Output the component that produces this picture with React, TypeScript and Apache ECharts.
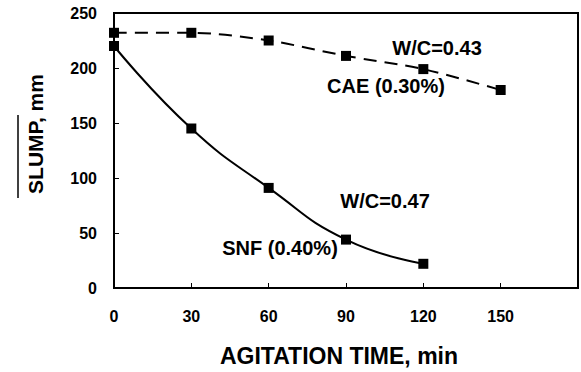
import React, { useEffect, useRef } from "react";
import * as echarts from "echarts";

const times = [0, 30, 60, 90, 120, 150];
const caeSlump = [232, 232, 225, 211, 199, 180];
const snfSlump = [220, 145, 91, 44, 22];
const xTicks = [0, 30, 60, 90, 120, 150];
const yTicks = [0, 50, 100, 150, 200, 250];

const FONT = "'Liberation Sans', Arial, sans-serif";

export default function App() {
  const ref = useRef<HTMLDivElement>(null);
  useEffect(() => {
    if (!ref.current) return;
    const chart = echarts.init(ref.current, undefined, { renderer: "svg" });
    const cae = times.map((t, i) => [t, caeSlump[i]]);
    const snf = snfSlump.map((v, i) => [times[i], v]);
    chart.setOption({
      animation: false,
      backgroundColor: "#fff",
      grid: {
        left: 114,
        right: -17,
        top: 13,
        bottom: 84,
        show: true,
        borderColor: "#000",
        borderWidth: 2,
        backgroundColor: "transparent",
      },
      xAxis: {
        type: "value",
        min: 0,
        max: 180,
        interval: 30,
        axisLine: { show: true, lineStyle: { color: "#000", width: 2 } },
        axisTick: { show: true, inside: true, length: 5, lineStyle: { color: "#000", width: 1 } },
        splitLine: { show: false },
        axisLabel: {
          color: "#000",
          fontFamily: FONT,
          fontWeight: "bold",
          fontSize: 16,
          margin: 20,
          formatter: (v: number) => (xTicks.includes(v) ? String(v) : ""),
        },
      },
      yAxis: {
        type: "value",
        min: 0,
        max: 250,
        interval: 50,
        axisLine: { show: true, lineStyle: { color: "#000", width: 2 } },
        axisTick: { show: true, inside: true, length: 5, lineStyle: { color: "#000", width: 1 } },
        splitLine: { show: false },
        axisLabel: {
          color: "#000",
          fontFamily: FONT,
          fontWeight: "bold",
          fontSize: 16,
          margin: 17,
          formatter: (v: number) => (yTicks.includes(v) ? String(v) : ""),
        },
      },
      series: [
        {
          type: "line",
          name: "CAE",
          data: cae,
          smooth: 0.3,
          symbol: "rect",
          symbolSize: 10,
          itemStyle: { color: "#000" },
          lineStyle: { color: "#000", width: 2, type: [13, 8] },
        },
        {
          type: "line",
          name: "SNF",
          data: snf,
          smooth: 0.5,
          symbol: "rect",
          symbolSize: 10,
          itemStyle: { color: "#000" },
          lineStyle: { color: "#000", width: 2 },
        },
      ],
      graphic: [
        {
          type: "text",
          x: 437,
          y: 48,
          style: { text: "W/C=0.43", font: `bold 20px ${FONT}`, fill: "#000", align: "center", verticalAlign: "middle" },
        },
        {
          type: "text",
          x: 386,
          y: 86,
          style: { text: "CAE (0.30%)", font: `bold 20px ${FONT}`, fill: "#000", align: "center", verticalAlign: "middle" },
        },
        {
          type: "text",
          x: 385,
          y: 201,
          style: { text: "W/C=0.47", font: `bold 20px ${FONT}`, fill: "#000", align: "center", verticalAlign: "middle" },
        },
        {
          type: "text",
          x: 280,
          y: 248,
          style: { text: "SNF (0.40%)", font: `bold 20px ${FONT}`, fill: "#000", align: "center", verticalAlign: "middle" },
        },
        {
          type: "text",
          x: 35,
          y: 134,
          rotation: Math.PI / 2,
          style: { text: "SLUMP, mm", font: `bold 21px ${FONT}`, fill: "#000", align: "center", verticalAlign: "middle" },
        },
        {
          type: "line",
          shape: { x1: 18, y1: 115, x2: 18, y2: 198 },
          style: { stroke: "#000", lineWidth: 1.5 },
        },
        {
          type: "text",
          x: 339,
          y: 356,
          style: { text: "AGITATION TIME, min", font: `bold 23px ${FONT}`, fill: "#000", align: "center", verticalAlign: "middle" },
        },
      ],
    });
    return () => chart.dispose();
  }, []);
  return <div ref={ref} style={{ width: 581, height: 372, position: "absolute", left: 0, top: 0 }} />;
}
